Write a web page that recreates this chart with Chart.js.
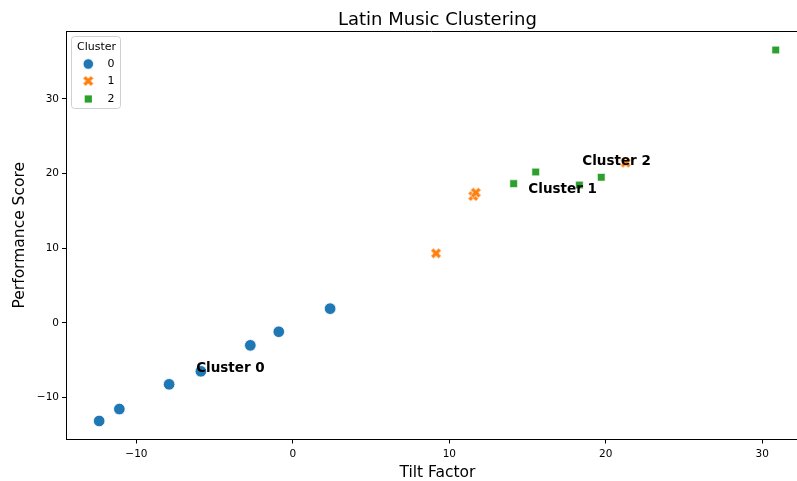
<!DOCTYPE html>
<html>
<head>
<meta charset="utf-8">
<script src="https://cdn.jsdelivr.net/npm/chart.js@4.4.0/dist/chart.umd.min.js"></script>
<style>
  html, body { margin: 0; padding: 0; background: #fff; }
  #wrap { width: 797px; height: 481px; }
</style>
</head>
<body>
<div id="wrap"><canvas id="c" width="797" height="481"></canvas></div>
<script>
// ---- data ----
const clusterNames = ['0', '1', '2'];
const cluster0X = [-12.38, -11.09, -7.91, -5.88, -2.72, -0.90, 2.38];
const cluster0Y = [-13.12, -11.52, -8.21, -6.47, -2.99, -1.17, 1.92];
const cluster1X = [9.15, 11.53, 11.69, 21.27];
const cluster1Y = [9.33, 17.00, 17.45, 21.47];
const cluster2X = [14.11, 15.52, 18.31, 19.71, 30.86];
const cluster2Y = [18.66, 20.22, 18.48, 19.51, 36.56];
const labelTexts = ['Cluster 0', 'Cluster 1', 'Cluster 2'];
const labelX = [-6.18, 15.05, 18.50];
const labelY = [-6.60, 17.37, 21.16];
const xTicks = [-10, 0, 10, 20, 30];
const yTicks = [-10, 0, 10, 20, 30];

const FONT = "'DejaVu Sans', 'Liberation Sans', sans-serif";
const BLUE = '#1f77b4', ORANGE = '#ff7f0e', GREEN = '#2ca02c';

// the axes box runs on past the right edge of the canvas, to this x value
const X_BOX_END = 32.98;

function toPoints(xs, ys) { return xs.map((x, i) => ({ x: x, y: ys[i] })); }
function fmtTick(v) { return v < 0 ? '\u2212' + Math.abs(v) : String(v); }

// filled "X" marker (a plus rotated by 45 degrees)
function makeXMarker(len, thick) {
  const size = Math.ceil(len + 4);
  const cv = document.createElement('canvas');
  cv.width = size; cv.height = size;
  const g = cv.getContext('2d');
  const a = len / 2, b = thick / 2;
  g.translate(size / 2, size / 2);
  g.rotate(Math.PI / 4);
  const pts = [[-b,-a],[b,-a],[b,-b],[a,-b],[a,b],[b,b],[b,a],[-b,a],[-b,b],[-a,b],[-a,-b],[-b,-b]];
  g.beginPath();
  pts.forEach((p, i) => i ? g.lineTo(p[0], p[1]) : g.moveTo(p[0], p[1]));
  g.closePath();
  g.fillStyle = ORANGE;
  g.fill();
  g.strokeStyle = '#ffffff';
  g.lineWidth = 0.7;
  g.stroke();
  return cv;
}
const xMarker = makeXMarker(11.2, 3.8);

// title, x-axis title, top spine, cluster labels and legend
const decorations = {
  id: 'decorations',
  afterDatasetsDraw(chart) {
    const ctx = chart.ctx;
    const xs = chart.scales.x, ys = chart.scales.y;
    ctx.save();
    ctx.font = 'bold 13.5px ' + FONT;
    ctx.fillStyle = '#000';
    ctx.textAlign = 'left';
    ctx.textBaseline = 'alphabetic';
    labelTexts.forEach((t, i) => {
      ctx.fillText(t, xs.getPixelForValue(labelX[i]), ys.getPixelForValue(labelY[i]));
    });
    ctx.restore();
  },
  afterDraw(chart) {
    const ctx = chart.ctx;
    const area = chart.chartArea;
    const xs = chart.scales.x;
    const boxCenter = (area.left + xs.getPixelForValue(X_BOX_END)) / 2;
    ctx.save();
    // top spine
    ctx.strokeStyle = '#000';
    ctx.lineWidth = 1;
    ctx.beginPath();
    ctx.moveTo(area.left, Math.round(area.top) + 0.5);
    ctx.lineTo(area.right, Math.round(area.top) + 0.5);
    ctx.stroke();

    ctx.fillStyle = '#000';
    ctx.textAlign = 'center';
    // chart title
    ctx.font = '18px ' + FONT;
    ctx.textBaseline = 'alphabetic';
    ctx.fillText('Latin Music Clustering', boxCenter, 25);
    // x-axis title
    ctx.font = '15.5px ' + FONT;
    ctx.textBaseline = 'middle';
    ctx.fillText('Tilt Factor', boxCenter, 472.5);

    // legend
    const bx = 71.5, by = 36.5, bw = 49, bh = 72, r = 3;
    ctx.beginPath();
    ctx.moveTo(bx + r, by);
    ctx.lineTo(bx + bw - r, by);
    ctx.arcTo(bx + bw, by, bx + bw, by + r, r);
    ctx.lineTo(bx + bw, by + bh - r);
    ctx.arcTo(bx + bw, by + bh, bx + bw - r, by + bh, r);
    ctx.lineTo(bx + r, by + bh);
    ctx.arcTo(bx, by + bh, bx, by + bh - r, r);
    ctx.lineTo(bx, by + r);
    ctx.arcTo(bx, by, bx + r, by, r);
    ctx.closePath();
    ctx.fillStyle = 'rgba(255,255,255,0.8)';
    ctx.fill();
    ctx.strokeStyle = '#d0d0d0';
    ctx.lineWidth = 1;
    ctx.stroke();

    ctx.fillStyle = '#000';
    ctx.font = '11px ' + FONT;
    ctx.textAlign = 'center';
    ctx.textBaseline = 'middle';
    ctx.fillText('Cluster', 96.5, 47);

    const rowsY = [64, 81, 99];
    const mx = 88.3;
    // circle
    ctx.beginPath();
    ctx.arc(mx, rowsY[0], 5.2, 0, Math.PI * 2);
    ctx.fillStyle = BLUE; ctx.fill();
    ctx.strokeStyle = '#fff'; ctx.lineWidth = 0.7; ctx.stroke();
    // x
    ctx.drawImage(xMarker, mx - xMarker.width / 2, rowsY[1] - xMarker.height / 2);
    // square
    ctx.fillStyle = GREEN;
    ctx.fillRect(mx - 3.6, rowsY[2] - 3.6, 7.2, 7.2);

    ctx.fillStyle = '#000';
    ctx.font = '11px ' + FONT;
    clusterNames.forEach((n, i) => ctx.fillText(n, 111, rowsY[i]));
    ctx.restore();
  }
};

const axisCommon = {
  type: 'linear',
  grid: { display: true, drawOnChartArea: false, drawTicks: true, tickLength: 4, color: '#000', lineWidth: 1 },
  border: { display: true, color: '#000', width: 1 },
};

new Chart(document.getElementById('c'), {
  type: 'scatter',
  data: {
    datasets: [
      {
        label: clusterNames[0],
        data: toPoints(cluster0X, cluster0Y),
        pointStyle: 'circle',
        radius: 5.8,
        backgroundColor: BLUE,
        borderColor: '#ffffff',
        borderWidth: 0.8,
      },
      {
        label: clusterNames[1],
        data: toPoints(cluster1X, cluster1Y),
        pointStyle: xMarker,
        radius: 6,
        backgroundColor: ORANGE,
        borderColor: ORANGE,
      },
      {
        label: clusterNames[2],
        data: toPoints(cluster2X, cluster2Y),
        pointStyle: 'rect',
        radius: 5.4,
        backgroundColor: GREEN,
        borderColor: '#ffffff',
        borderWidth: 0.6,
      },
    ]
  },
  options: {
    responsive: false,
    animation: false,
    devicePixelRatio: 1,
    layout: { autoPadding: false, padding: { top: 31, right: 0, left: 0, bottom: 0 } },
    plugins: {
      legend: { display: false },
      title: { display: false },
      tooltip: { enabled: false },
    },
    scales: {
      x: Object.assign({}, axisCommon, {
        position: 'bottom',
        min: -14.5,
        max: 32.22,
        afterBuildTicks(scale) { scale.ticks = xTicks.map(v => ({ value: v })); },
        afterFit(scale) {
          scale.height = 41.5;
          scale.paddingLeft = 0;
          scale.paddingRight = 0;
        },
        ticks: {
          color: '#000',
          padding: 4,
          maxRotation: 0,
          font: { family: FONT, size: 10.5 },
          callback: v => fmtTick(v),
        },
        title: { display: false },
      }),
      y: Object.assign({}, axisCommon, {
        position: 'left',
        min: -15.6,
        max: 39.1,
        afterBuildTicks(scale) { scale.ticks = yTicks.map(v => ({ value: v })); },
        afterFit(scale) {
          scale.width = 66;
          scale.paddingTop = 0;
          scale.paddingBottom = 0;
        },
        ticks: {
          color: '#000',
          padding: 3,
          font: { family: FONT, size: 10.5 },
          callback: v => fmtTick(v),
        },
        title: {
          display: true,
          text: 'Performance Score',
          color: '#000',
          font: { family: FONT, size: 15.5 },
          padding: { top: 11, bottom: 0 },
        },
      }),
    }
  },
  plugins: [decorations]
});
</script>
</body>
</html>
